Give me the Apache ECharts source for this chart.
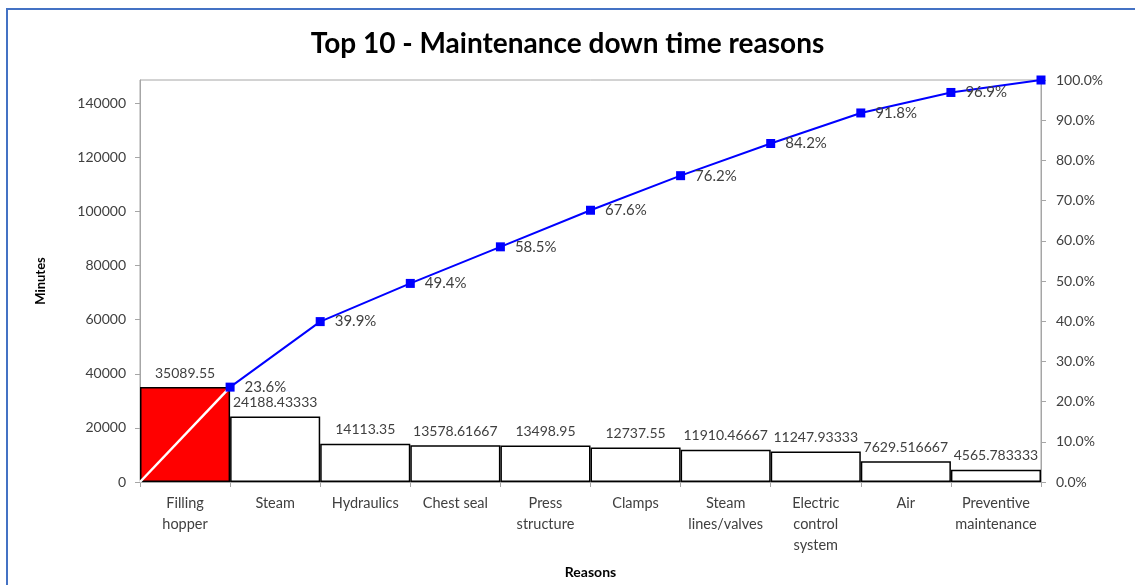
<!DOCTYPE html>
<html>
<head>
<meta charset="utf-8">
<script src="https://cdn.jsdelivr.net/npm/echarts@6/dist/echarts.min.js"></script>
<style>
html,body{margin:0;padding:0;background:#fff;overflow:hidden;}
#chart{width:1135px;height:585px;position:absolute;left:0;top:0;}
#frame{position:absolute;left:6px;top:8px;width:1300px;height:800px;border-left:2px solid #4472C4;border-top:2px solid #4472C4;pointer-events:none;}
</style>
</head>
<body>
<div id="chart"></div>
<div id="frame"></div>
<script>
const categories = ["Filling\nhopper","Steam","Hydraulics","Chest seal","Press\nstructure","Clamps","Steam\nlines/valves","Electric\ncontrol\nsystem","Air","Preventive\nmaintenance"];
const minutes = [35089.55,24188.43333,14113.35,13578.61667,13498.95,12737.55,11910.46667,11247.93333,7629.516667,4565.783333];
const cumulativePct = [23.6,39.9,49.4,58.5,67.6,76.2,84.2,91.8,96.9,100.0];
const leftTicks = [0,20000,40000,60000,80000,100000,120000,140000];
const barColors = ['#FF0000','#FFFFFF','#FFFFFF','#FFFFFF','#FFFFFF','#FFFFFF','#FFFFFF','#FFFFFF','#FFFFFF','#FFFFFF'];

const total = minutes.reduce((a,b)=>a+b,0);
const FONT = 'Lato';
const gray = '#A6A6A6';
const txt = '#404040';

const chart = echarts.init(document.getElementById('chart'), null, {renderer:'canvas'});
const lineData = cumulativePct.map((v,i)=>{
  const last = i === cumulativePct.length - 1;
  return {value:[i+1, v], label:{show:!last}};
});
chart.setOption({
  animation:false,
  backgroundColor:'transparent',
  textStyle:{fontFamily:FONT},
  title:{
    text:'Top 10 - Maintenance down time reasons',
    left:'center', top:25,
    textStyle:{fontFamily:FONT,fontWeight:'bold',fontSize:28,color:'#000'}
  },
  grid:{left:140,right:94,top:80,bottom:103,outerBoundsMode:'none',containLabel:false,show:true,borderColor:gray,borderWidth:1,backgroundColor:'transparent'},
  xAxis:[{
    type:'category', data:categories,
    name:'Reasons', nameLocation:'middle', nameGap:83,
    nameTextStyle:{fontFamily:FONT,fontWeight:'bold',fontSize:14,color:'#000'},
    axisLine:{lineStyle:{color:gray,width:1}},
    axisTick:{show:true,length:5,lineStyle:{color:gray}},
    axisLabel:{interval:0,fontSize:14.5,color:txt,lineHeight:21,margin:11,fontFamily:FONT}
  },{
    type:'value', min:0, max:categories.length, show:false
  }],
  yAxis:[{
    type:'value', min:0, max:total,
    name:'Minutes', nameLocation:'middle', nameGap:93, nameRotate:90,
    nameTextStyle:{fontFamily:FONT,fontWeight:'bold',fontSize:13,color:'#000'},
    axisLine:{show:true,lineStyle:{color:gray}},
    axisTick:{show:true,length:5,lineStyle:{color:gray},customValues:leftTicks},
    axisLabel:{fontSize:14,color:txt,margin:14,customValues:leftTicks,formatter:v=>String(v),fontFamily:FONT},
    splitLine:{show:false}
  },{
    type:'value', min:0, max:100, interval:10, position:'right',
    axisLine:{show:true,lineStyle:{color:gray}},
    axisTick:{show:true,length:5,lineStyle:{color:gray}},
    axisLabel:{fontSize:14,color:txt,margin:15,formatter:v=>v.toFixed(1)+'%',fontFamily:FONT},
    splitLine:{show:false}
  }],
  series:[{
    type:'bar', xAxisIndex:0, yAxisIndex:0,
    data:minutes.map((v,i)=>({value:v,itemStyle:{color:barColors[i]}})),
    barWidth:'100%', barCategoryGap:0,
    itemStyle:{borderColor:'#000',borderWidth:1.5},
    label:{show:true,position:'top',distance:7,fontSize:14,color:txt,fontFamily:FONT,formatter:p=>String(p.value)},
    z:2
  },{
    type:'line', xAxisIndex:1, yAxisIndex:1,
    data:[[0,0],[1,cumulativePct[0]]],
    symbol:'none', lineStyle:{color:'#FFFFFF',width:2.5}, z:5
  },{
    type:'line', xAxisIndex:1, yAxisIndex:1,
    data:lineData,
    symbol:'rect', symbolSize:9,
    itemStyle:{color:'#0000FF'},
    lineStyle:{color:'#0000FF',width:2},
    label:{show:true,position:'right',distance:10,fontSize:15,color:txt,fontFamily:FONT,formatter:p=>p.value[1].toFixed(1)+'%'},
    z:6
  }]
});
</script>
</body>
</html>
